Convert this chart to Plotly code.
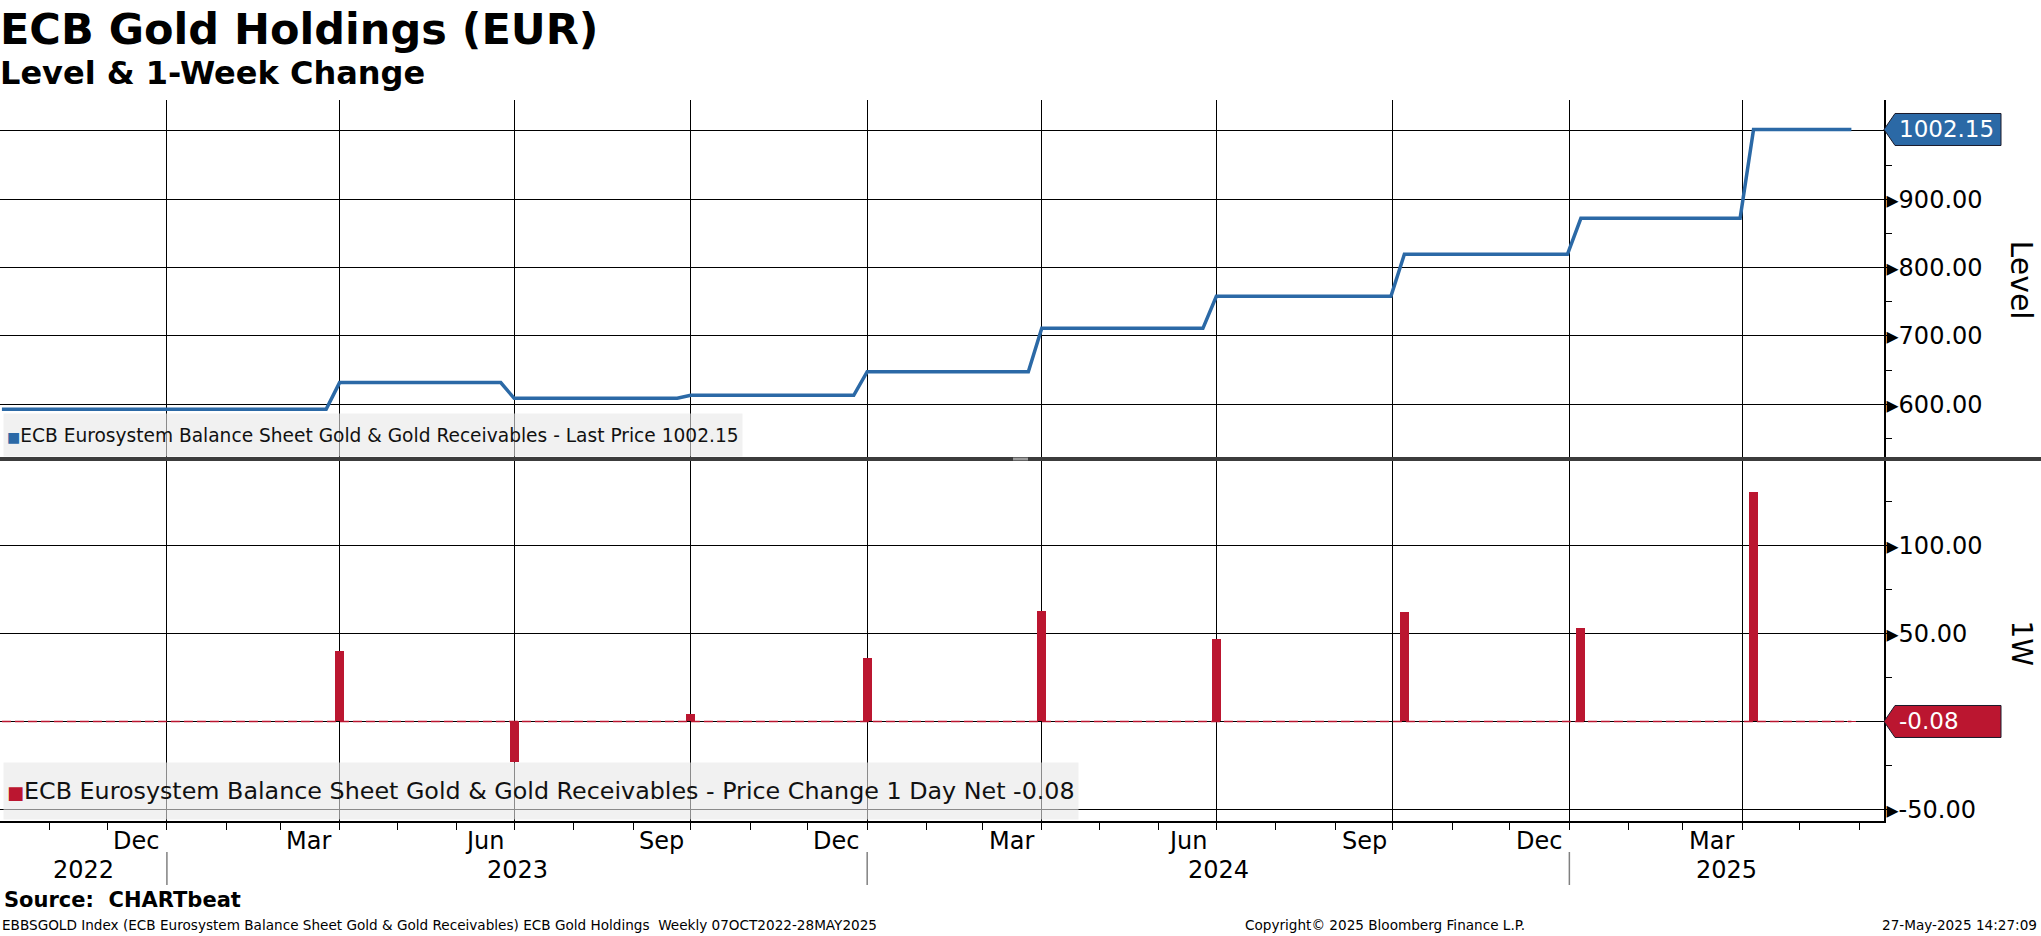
import plotly.graph_objects as go
import pandas as pd

# ---------------- data ----------------
# week in which each quarterly revaluation shows up (position)
reval_dates = ["2023-04-01", "2023-07-01", "2023-10-01", "2024-01-01", "2024-04-01",
               "2024-07-01", "2024-10-07", "2025-01-07", "2025-04-07"]
first_date = "2022-10-07"
last_date = "2025-05-28"
plateau_level = [592.7, 631.8, 608.8, 613.2, 647.7, 711.2, 758.0, 819.5, 872.2, 1002.15]

change_dates = reval_dates + [last_date]
change_values = [40.0, -22.9, 4.4, 36.2, 62.5, 46.5, 62.0, 53.0, 130.3, -0.08]

quarter_starts = ["2023-01-01", "2023-04-01", "2023-07-01", "2023-10-01", "2024-01-01",
                  "2024-04-01", "2024-07-01", "2024-10-01", "2025-01-01", "2025-04-01"]
month_label_dates = ["2022-12-16", "2023-03-16", "2023-06-16", "2023-09-16", "2023-12-16",
                     "2024-03-16", "2024-06-16", "2024-09-16", "2024-12-16", "2025-03-16"]
month_labels = ["Dec", "Mar", "Jun", "Sep", "Dec", "Mar", "Jun", "Sep", "Dec", "Mar"]
year_labels = ["2022", "2023", "2024", "2025"]
year_bounds = ["2023-01-01", "2024-01-01", "2025-01-01"]

level_ticks = [600, 700, 800, 900, 1000]
change_ticks = [-50, 0, 50, 100]

x_range = ["2022-10-06", "2025-06-14"]
level_range = [520, 1045.3]
change_range = [-56.6, 149]

BLUE = "#2b69a6"
RED = "#bb1630"
FONT = "DejaVu Sans"

# ---------------- build weekly step line (plateaus between revaluations) ----------------
week = pd.Timedelta(days=7)
starts = [pd.Timestamp(first_date)] + [pd.Timestamp(d) for d in reval_dates]
ends = [pd.Timestamp(d) - week for d in reval_dates] + [pd.Timestamp(last_date)]
line_x, line_y = [], []
for s, e, v in zip(starts, ends, plateau_level):
    line_x += [s, e]
    line_y += [v, v]

last_level = plateau_level[-1]
last_change = change_values[-1]

fig = go.Figure()
fig.add_trace(go.Scatter(x=line_x, y=line_y, mode="lines",
                         line=dict(color=BLUE, width=3.5),
                         xaxis="x", yaxis="y", hoverinfo="skip"))
fig.add_trace(go.Bar(x=change_dates, y=change_values, marker=dict(color=RED, line=dict(width=0)),
                     width=4.6 * 86400000, xaxis="x2", yaxis="y2"))
# last-value dashed line
fig.add_trace(go.Scatter(x=[first_date, last_date], y=[last_change, last_change],
                         mode="lines", line=dict(color=RED, width=1.5, dash="9px,4px"),
                         xaxis="x2", yaxis="y2", hoverinfo="skip"))


def fmt(v):
    return "▸" + f"{v:.2f}"


split = 362 / 721.0

fig.update_layout(
    width=2041, height=936,
    margin=dict(l=0, r=157, t=100, b=115, pad=0, autoexpand=False),
    paper_bgcolor="white", plot_bgcolor="white",
    showlegend=False,
    font=dict(family=FONT, color="black"),
    xaxis=dict(type="date", range=x_range, domain=[0, 1], anchor="y", automargin=False,
               tickmode="array", tickvals=quarter_starts, showticklabels=False, ticks="",
               showgrid=True, gridcolor="black", gridwidth=1, zeroline=False, showline=False),
    xaxis2=dict(type="date", range=x_range, domain=[0, 1], anchor="y2", matches="x",
                automargin=False,
                tickmode="array", tickvals=quarter_starts, showticklabels=False,
                ticks="outside", ticklen=7, tickcolor="black", tickwidth=1,
                minor=dict(dtick="M1", tick0="2022-11-01", ticks="outside", ticklen=7,
                           tickcolor="black", tickwidth=1, showgrid=False),
                showgrid=True, gridcolor="black", gridwidth=1, zeroline=False,
                showline=True, linecolor="black", linewidth=1.5),
    yaxis=dict(domain=[split, 1], range=level_range, side="right", anchor="x", automargin=False,
               tickmode="array", tickvals=level_ticks,
               ticktext=[fmt(v) if v != 1000 else "" for v in level_ticks],
               ticks="", tickfont=dict(size=24, family=FONT), ticklabelstandoff=-4,
               minor=dict(dtick=50, tick0=0, ticks="outside", ticklen=6, tickcolor="black",
                          showgrid=False),
               showgrid=True, gridcolor="black", gridwidth=1, zeroline=False,
               showline=True, linecolor="black", linewidth=1.5),
    yaxis2=dict(domain=[0, split], range=change_range, side="right", anchor="x2", automargin=False,
                tickmode="array", tickvals=change_ticks,
                ticktext=[fmt(v) if v != 0 else "" for v in change_ticks],
                ticks="", tickfont=dict(size=24, family=FONT), ticklabelstandoff=-4,
                minor=dict(dtick=25, tick0=0, ticks="outside", ticklen=6, tickcolor="black",
                           showgrid=False),
                showgrid=True, gridcolor="black", gridwidth=1, zeroline=False,
                showline=True, linecolor="black", linewidth=1.5),
    bargap=0,
)

shapes = []
annotations = []

# divider between panels
shapes.append(dict(type="line", xref="paper", yref="paper", x0=0, x1=2041 / 1884.0,
                   y0=split, y1=split, line=dict(color="#3c3c3c", width=4), layer="above"))
shapes.append(dict(type="rect", xref="paper", yref="paper", x0=1013 / 1884.0, x1=1028 / 1884.0,
                   y0=split - 0.002, y1=split + 0.002, fillcolor="#9a9a9a", line=dict(width=0),
                   layer="above"))

# value tags on the right axis
tag_path = "M0,0 L11,16 L117,16 L117,-16 L11,-16 Z"
for yref, yval, col, txt in [("y", last_level, BLUE, f"{last_level:.2f}"),
                              ("y2", last_change, RED, f"{last_change:.2f}")]:
    shapes.append(dict(type="path", xref="paper", yref=yref, xsizemode="pixel", ysizemode="pixel",
                       xanchor=1, yanchor=yval, path=tag_path, fillcolor=col,
                       line=dict(color="#1a1a2a", width=1), layer="above"))
    annotations.append(dict(xref="paper", yref=yref, x=1, y=yval, xanchor="left", yanchor="middle",
                            xshift=13, showarrow=False, text=txt,
                            font=dict(size=23, color="white", family=FONT)))

# axis titles
annotations.append(dict(xref="paper", yref="paper", x=2021.5 / 1884.0, y=(821 - 280) / 721.0,
                        xanchor="center", yanchor="middle",
                        text="Level", textangle=90, showarrow=False,
                        font=dict(size=30, family=FONT)))
annotations.append(dict(xref="paper", yref="paper", x=2021.5 / 1884.0, y=(821 - 644) / 721.0,
                        xanchor="center", yanchor="middle",
                        text="1W", textangle=90, showarrow=False,
                        font=dict(size=28, family=FONT)))

# legends
annotations.append(dict(xref="paper", yref="paper", x=3 / 1884.0, y=(821 - 435) / 721.0,
                        xanchor="left", yanchor="middle", showarrow=False, align="left",
                        valign="middle", height=36,
                        text=f"<span style='color:{BLUE};font-size:14px'>■</span>ECB Eurosystem Balance Sheet Gold &amp; Gold Receivables - Last Price {last_level:.2f}",
                        font=dict(size=18.6, family=FONT, color="#111"),
                        bgcolor="rgba(232,232,232,0.6)", borderpad=3))
annotations.append(dict(xref="paper", yref="paper", x=3 / 1884.0, y=(821 - 791) / 721.0,
                        xanchor="left", yanchor="middle", showarrow=False, align="left",
                        valign="middle", height=50,
                        text=f"<span style='color:{RED};font-size:18px'>■</span>ECB Eurosystem Balance Sheet Gold &amp; Gold Receivables - Price Change 1 Day Net {last_change:.2f}",
                        font=dict(size=23.8, family=FONT, color="#111"),
                        bgcolor="rgba(232,232,232,0.6)", borderpad=3))

# month labels
for d, lab in zip(month_label_dates, month_labels):
    annotations.append(dict(xref="x2", yref="paper", x=d, y=(821 - 841) / 721.0,
                            yanchor="middle", showarrow=False, text=lab,
                            font=dict(size=24, family=FONT)))

# year labels centred in visible year segments
x0 = pd.Timestamp(x_range[0])
x1 = pd.Timestamp(x_range[1])
edges = [x0] + [pd.Timestamp(b) for b in year_bounds] + [x1]
for i, lab in enumerate(year_labels):
    mid = edges[i] + (edges[i + 1] - edges[i]) / 2
    annotations.append(dict(xref="x2", yref="paper", x=mid, y=(821 - 870) / 721.0,
                            yanchor="middle", showarrow=False, text=lab,
                            font=dict(size=24, family=FONT)))
for b in year_bounds:
    shapes.append(dict(type="line", xref="x2", yref="paper", x0=b, x1=b,
                       y0=(821 - 852) / 721.0, y1=(821 - 885) / 721.0,
                       line=dict(color="#808080", width=1.5)))

# titles
annotations.append(dict(xref="paper", yref="paper", x=0, y=(821 - 29) / 721.0, xanchor="left",
                        yanchor="middle", xshift=-2, showarrow=False, text="<b>ECB Gold Holdings (EUR)</b>",
                        font=dict(size=43, family=FONT)))
annotations.append(dict(xref="paper", yref="paper", x=0, y=(821 - 73) / 721.0, xanchor="left",
                        yanchor="middle", xshift=-2, showarrow=False, text="<b>Level &amp; 1-Week Change</b>",
                        font=dict(size=32, family=FONT)))

# footer
annotations.append(dict(xref="paper", yref="paper", x=0, y=(821 - 900) / 721.0, xanchor="left",
                        yanchor="middle", xshift=2, showarrow=False, text="<b>Source:  CHARTbeat</b>",
                        font=dict(size=21, family=FONT)))
annotations.append(dict(xref="paper", yref="paper", x=0, y=(821 - 925) / 721.0, xanchor="left",
                        yanchor="middle", showarrow=False,
                        text="EBBSGOLD Index (ECB Eurosystem Balance Sheet Gold &amp; Gold Receivables) ECB Gold Holdings  Weekly 07OCT2022-28MAY2025",
                        font=dict(size=13.6, family=FONT)))
annotations.append(dict(xref="paper", yref="paper", x=1385 / 1884.0, y=(821 - 925) / 721.0,
                        xanchor="center", yanchor="middle", showarrow=False,
                        text="Copyright© 2025 Bloomberg Finance L.P.",
                        font=dict(size=13.6, family=FONT)))
annotations.append(dict(xref="paper", yref="paper", x=2039 / 1884.0, y=(821 - 925) / 721.0,
                        xanchor="right", yanchor="middle", showarrow=False,
                        text="27-May-2025 14:27:09",
                        font=dict(size=13.6, family=FONT)))

fig.update_layout(shapes=shapes, annotations=annotations)
fig.write_html("out.html", config={"displayModeBar": False},
               post_script="document.body.style.margin='0';document.body.style.overflow='hidden';")
